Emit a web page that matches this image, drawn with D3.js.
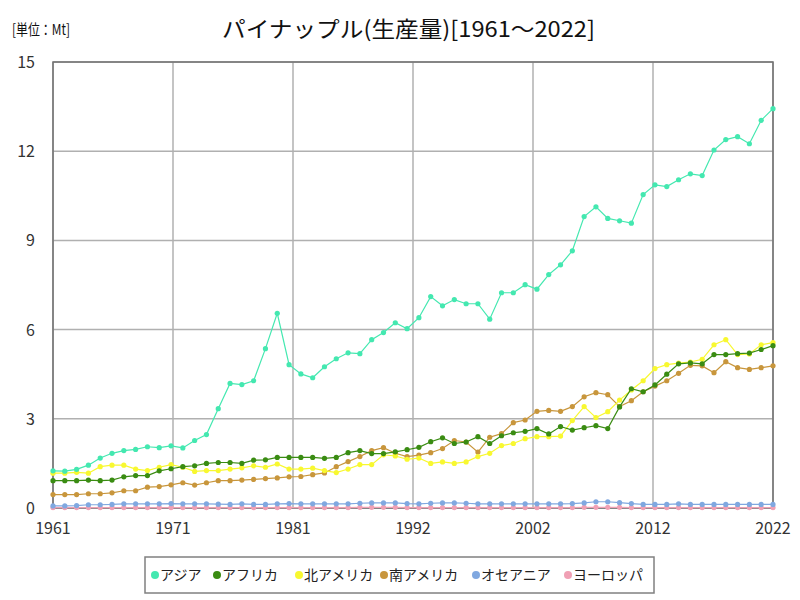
<!DOCTYPE html>
<html><head><meta charset="utf-8">
<script src="https://cdn.jsdelivr.net/npm/d3@7"></script>
<style>body{margin:0;background:#fff;font-family:"Noto Sans CJK JP","Noto Sans",sans-serif;}</style>
</head><body><svg id="c" width="800" height="600"></svg>
<script>
const years = d3.range(1961, 2023);
const seriesNames = ["アジア","アフリカ","北アメリカ","南アメリカ","オセアニア","ヨーロッパ"];
const seriesColors = ["#44e8b0","#3a8c12","#f8f830","#c8963c","#80a8e0","#f0a0b4"];
const asia = [1.25,1.24,1.3,1.44,1.68,1.84,1.93,1.97,2.06,2.03,2.09,2.02,2.27,2.47,3.34,4.19,4.15,4.28,5.36,6.55,4.82,4.51,4.38,4.75,5.02,5.22,5.19,5.66,5.90,6.23,6.03,6.40,7.11,6.80,7.01,6.87,6.87,6.35,7.24,7.24,7.51,7.36,7.85,8.18,8.65,9.80,10.13,9.74,9.66,9.58,10.54,10.87,10.81,11.04,11.24,11.18,12.04,12.39,12.49,12.25,13.04,13.43];
const africa = [0.92,0.92,0.92,0.94,0.92,0.94,1.05,1.09,1.09,1.25,1.32,1.39,1.42,1.50,1.53,1.53,1.50,1.61,1.62,1.70,1.70,1.70,1.70,1.67,1.70,1.86,1.93,1.83,1.83,1.89,1.96,2.04,2.23,2.36,2.17,2.22,2.40,2.17,2.43,2.53,2.58,2.67,2.49,2.74,2.62,2.70,2.77,2.67,3.40,4.01,3.91,4.14,4.50,4.85,4.88,4.85,5.16,5.16,5.19,5.21,5.33,5.46];
const northAmerica = [1.17,1.17,1.20,1.17,1.39,1.44,1.44,1.31,1.26,1.37,1.46,1.37,1.23,1.26,1.26,1.31,1.35,1.42,1.37,1.48,1.31,1.31,1.34,1.26,1.19,1.31,1.46,1.46,1.79,1.75,1.64,1.68,1.50,1.55,1.50,1.55,1.73,1.84,2.10,2.17,2.33,2.40,2.40,2.42,2.94,3.41,3.04,3.24,3.63,3.97,4.28,4.69,4.82,4.87,4.91,5.00,5.49,5.66,5.16,5.18,5.49,5.56];
const southAmerica = [0.45,0.45,0.45,0.48,0.48,0.51,0.58,0.58,0.70,0.72,0.78,0.85,0.77,0.85,0.92,0.92,0.94,0.96,0.99,1.01,1.05,1.06,1.12,1.18,1.39,1.56,1.73,1.93,2.03,1.84,1.73,1.78,1.86,2.00,2.27,2.22,1.88,2.38,2.50,2.87,2.96,3.25,3.28,3.25,3.41,3.74,3.88,3.81,3.41,3.61,3.91,4.10,4.28,4.53,4.80,4.78,4.55,4.92,4.72,4.66,4.72,4.78];
const oceania = [0.07,0.07,0.08,0.11,0.11,0.12,0.14,0.14,0.14,0.14,0.15,0.14,0.14,0.14,0.13,0.12,0.14,0.12,0.12,0.14,0.15,0.14,0.14,0.14,0.14,0.14,0.16,0.17,0.17,0.17,0.15,0.14,0.16,0.17,0.17,0.16,0.14,0.14,0.14,0.14,0.14,0.14,0.14,0.14,0.15,0.17,0.21,0.21,0.18,0.15,0.12,0.12,0.12,0.14,0.12,0.12,0.12,0.12,0.12,0.12,0.12,0.12];
const europe = [0.01,0.01,0.01,0.01,0.01,0.01,0.01,0.01,0.01,0.01,0.01,0.01,0.01,0.01,0.01,0.01,0.01,0.01,0.01,0.01,0.01,0.01,0.01,0.01,0.01,0.01,0.02,0.02,0.02,0.02,0.01,0.01,0.01,0.01,0.01,0.01,0.01,0.01,0.01,0.01,0.01,0.01,0.01,0.01,0.01,0.02,0.02,0.02,0.02,0.01,0.01,0.01,0.01,0.01,0.01,0.01,0.01,0.01,0.01,0.01,0.01,0.01];
const xTickLabels = ["1961","1971","1981","1992","2002","2012","2022"];
const yTicks = [0,3,6,9,12,15];
const title = "パイナップル(生産量)[1961～2022]";
const unitLabel = "[単位：Mt]";

const allSeries = [asia, africa, northAmerica, southAmerica, oceania, europe];
const svg = d3.select("#c");
const L = 53, R = 773, T = 62, B = 508;
const x = d3.scaleLinear().domain([1961, 2022]).range([L, R]);
const y = d3.scaleLinear().domain([0, 15]).range([B, T]);

// grid
const tickPos = d3.range(7).map(i => 1961 + i * 61 / 6);
svg.append("g").selectAll("line").data(tickPos).join("line")
  .attr("x1", d => x(d)).attr("x2", d => x(d)).attr("y1", T).attr("y2", B)
  .attr("stroke", "#b0b0b0").attr("stroke-width", 1.5);
svg.append("g").selectAll("line").data(yTicks).join("line")
  .attr("x1", L).attr("x2", R).attr("y1", d => y(d)).attr("y2", d => y(d))
  .attr("stroke", "#b0b0b0").attr("stroke-width", 1.5);

// frame
svg.append("rect").attr("x", L).attr("y", T).attr("width", R - L).attr("height", B - T)
  .attr("fill", "none").attr("stroke", "#707070").attr("stroke-width", 1.5);

// axes labels
svg.append("g").selectAll("text").data(yTicks).join("text")
  .attr("x", 35).attr("y", d => y(d) + 6).attr("text-anchor", "end")
  .attr("font-size", 16).attr("fill", "#333").text(d => d);
svg.append("g").selectAll("text").data(tickPos).join("text")
  .attr("x", d => x(d)).attr("y", 534).attr("text-anchor", "middle")
  .attr("font-size", 16).attr("fill", "#333").text((d, i) => xTickLabels[i]);

// series (draw from last to first so Asia on top)
const line = d3.line().x((d, i) => x(years[i])).y(d => y(d));
for (let s = allSeries.length - 1; s >= 0; s--) {
  const g = svg.append("g");
  g.append("path").datum(allSeries[s]).attr("d", line)
    .attr("fill", "none").attr("stroke", seriesColors[s]).attr("stroke-width", 1.2);
  g.selectAll("circle").data(allSeries[s]).join("circle")
    .attr("cx", (d, i) => x(years[i])).attr("cy", d => y(d)).attr("r", 2.6)
    .attr("fill", seriesColors[s]);
}

// title
svg.append("text").attr("x", 222).attr("y", 37)
  .attr("font-size", 22).attr("fill", "#111")
  .attr("textLength", 373).attr("lengthAdjust", "spacingAndGlyphs").text(title);
svg.append("text").attr("x", 12).attr("y", 35)
  .attr("font-size", 15).attr("fill", "#111")
  .attr("textLength", 58).attr("lengthAdjust", "spacingAndGlyphs").text(unitLabel);

// legend
svg.append("rect").attr("x", 145).attr("y", 557).attr("width", 509).attr("height", 36)
  .attr("fill", "#fff").attr("stroke", "#808080").attr("stroke-width", 1.5);
const legX = [155, 217, 299, 384, 476, 568];
const lg = svg.append("g").selectAll("g").data(seriesNames).join("g")
  .attr("transform", (d, i) => `translate(${legX[i]},575)`);
lg.append("circle").attr("r", 4).attr("fill", (d, i) => seriesColors[i]);
lg.append("text").attr("x", 5).attr("y", 5).attr("font-size", 14).attr("fill", "#222").text(d => d);
</script></body></html>
